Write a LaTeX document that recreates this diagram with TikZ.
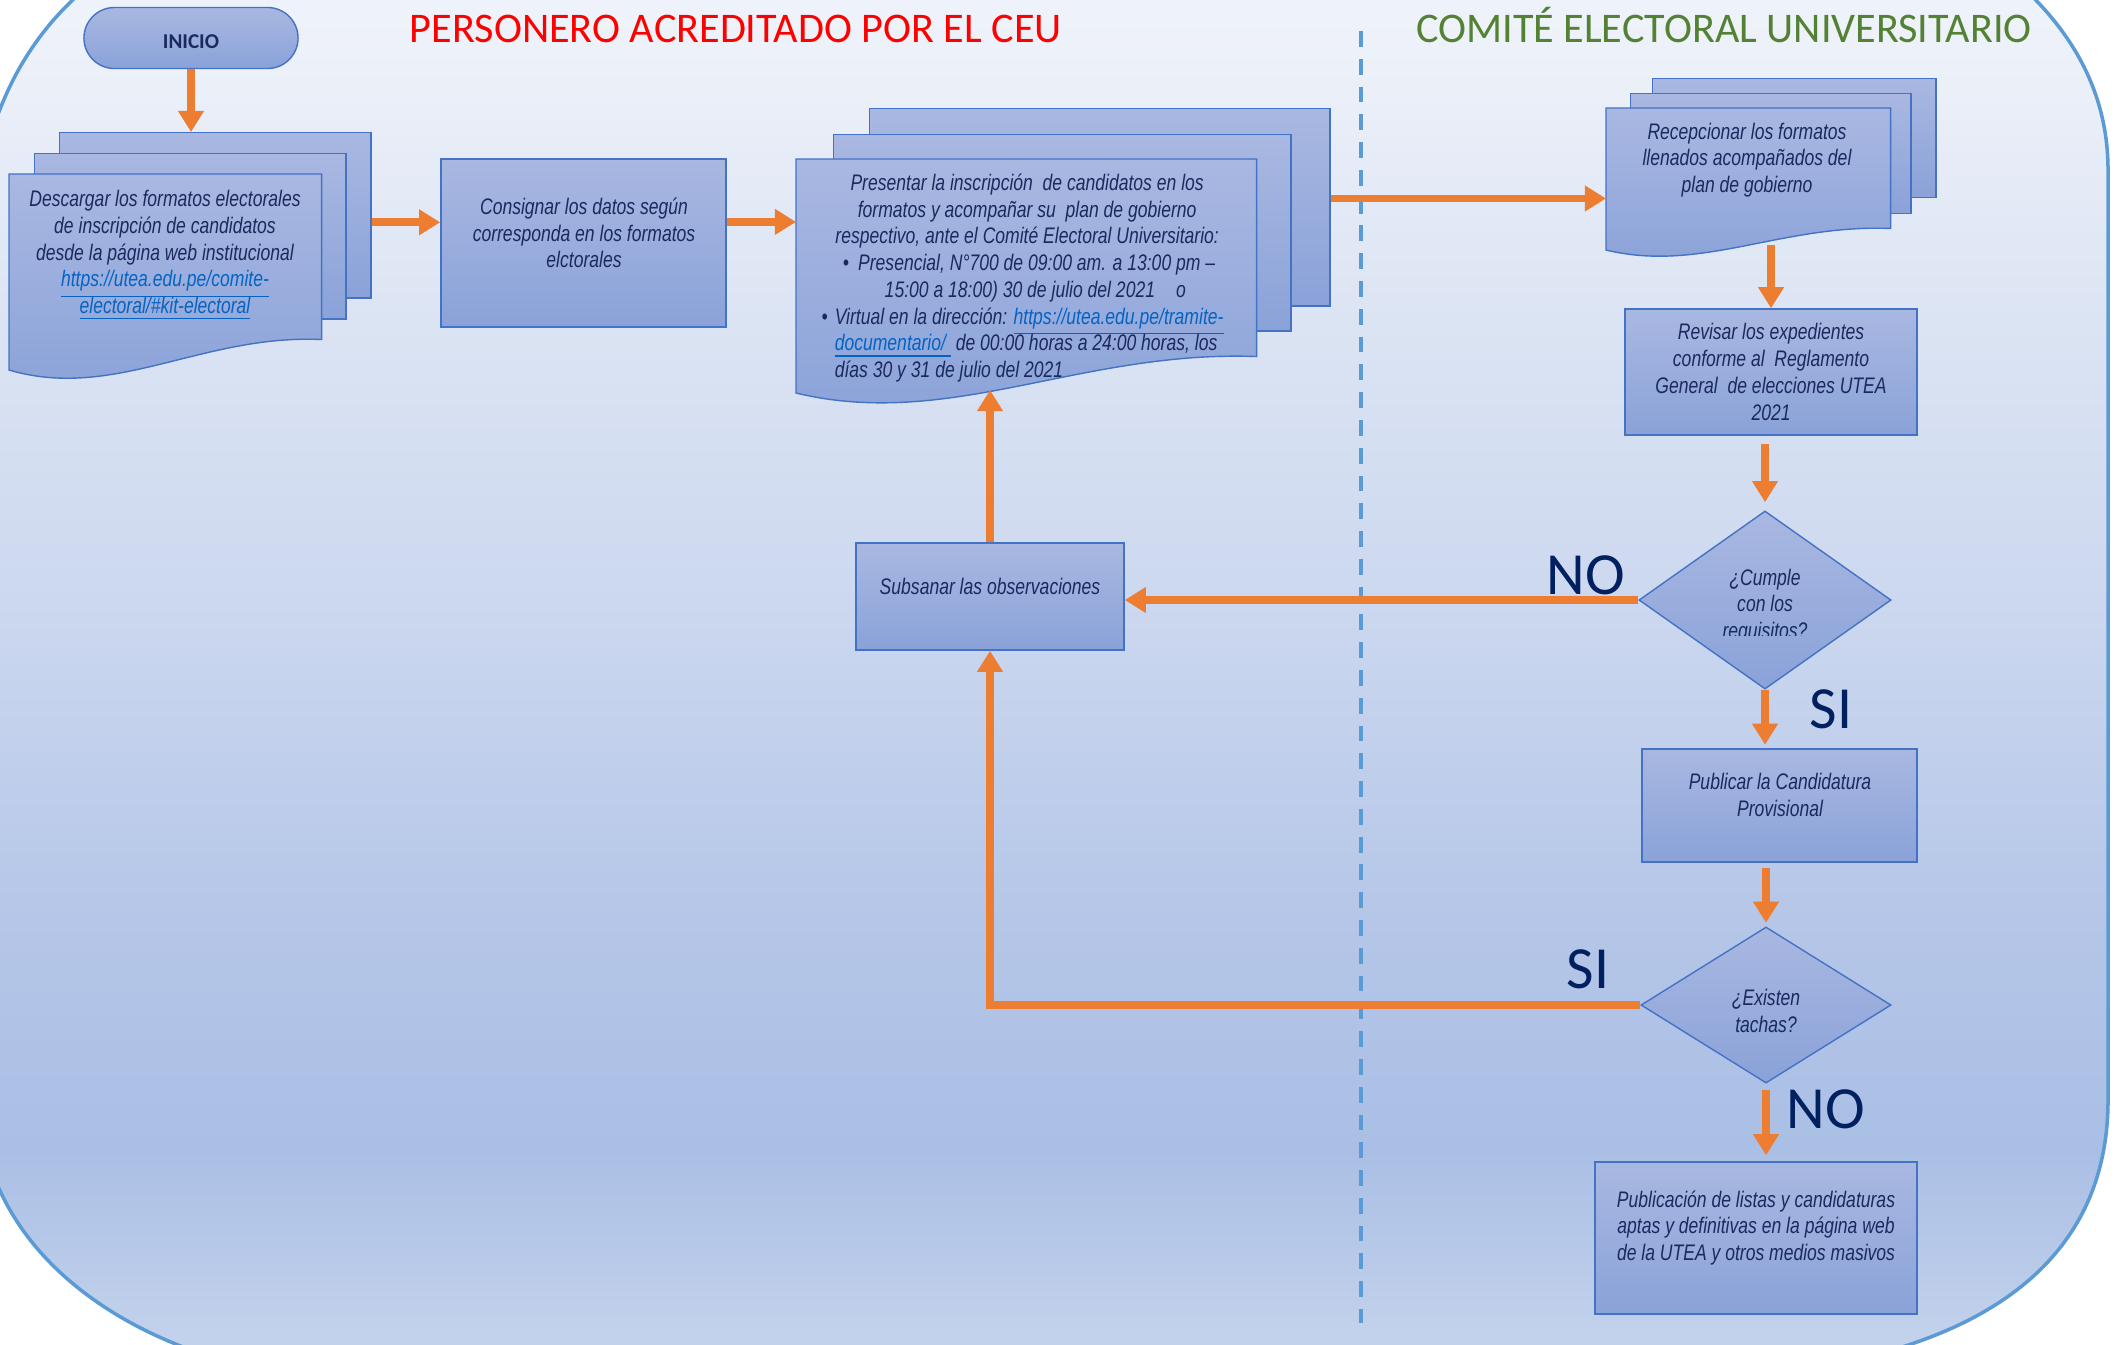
\documentclass[tikz,border=0pt]{standalone}
\usepackage{fontspec}
\usetikzlibrary{shapes.geometric,shapes.misc,arrows.meta,calc,positioning}
\setlength{\parindent}{0pt}
\newfontfamily\titlefont{Carlito}
\newfontfamily\boxfont[FakeStretch=0.78]{Liberation Sans}

\definecolor{flowc}{HTML}{ED7D31}
\definecolor{boxline}{HTML}{4472C4}
\definecolor{boxtop}{HTML}{A9B8E1}
\definecolor{boxbot}{HTML}{8AA2D9}
\definecolor{panelline}{HTML}{5B9BD5}
\definecolor{linkblue}{HTML}{0563C1}
\definecolor{txtnavy}{HTML}{1B2A5E}
\definecolor{lblnavy}{HTML}{002060}
\definecolor{titlered}{HTML}{FF0000}
\definecolor{titlegreen}{HTML}{548235}
\definecolor{bgT}{HTML}{F1F4FB}
\definecolor{bgA}{HTML}{EDF1F9}
\definecolor{bgA2}{HTML}{DDE5F4}
\definecolor{bgB}{HTML}{CCD8EF}
\definecolor{bgB2}{HTML}{B6C7E8}
\definecolor{bgC}{HTML}{AABFE5}
\definecolor{bgD}{HTML}{C3D2EC}
\definecolor{bgE}{HTML}{C6D5ED}

\pgfdeclareverticalshading{bgshade}{100bp}{color(0bp)=(bgE); color(25bp)=(bgE);
  color(26bp)=(bgD); color(32.6bp)=(bgC); color(41.2bp)=(bgB2); color(51.5bp)=(bgB);
  color(61.9bp)=(bgA2); color(70.5bp)=(bgA); color(75bp)=(bgT); color(100bp)=(bgT)}

\newcommand{\weblink}[1]{\smash{\textcolor{linkblue}{\underline{#1}}}}

\tikzset{
  box/.style={rectangle, draw=boxline, line width=0.4pt, top color=boxtop, bottom color=boxbot, inner sep=0pt},
  page/.style={box, anchor=north west},
  frontpage/.style={rectangle, inner sep=0pt, anchor=north west},
  pagefill/.style={draw=boxline, line width=0.4pt, top color=boxtop, bottom color=boxbot},
  txt/.style={font=\boxfont\itshape\fontsize{6.4pt}{7.6pt}\selectfont, text=txtnavy, align=center, inner sep=0pt},
  flow/.style={draw=flowc, line width=2.2pt, -{Triangle[width=7pt,length=6pt]}},
  answer/.style={font=\titlefont\fontsize{17pt}{20pt}\selectfont, text=lblnavy, anchor=base, inner sep=0pt},
  lane/.style={font=\titlefont\fontsize{12pt}{14pt}\selectfont, anchor=base, inner sep=0pt},
  divider/.style={draw=panelline, line width=1.1pt, dash pattern=on 4.5pt off 3.4pt}
}

\begin{document}
\begin{tikzpicture}[x=0.01cm, y=-0.01cm]
\useasboundingbox (0,0) rectangle (2116,1344);
\fill[white] (0,0) rectangle (2116,1344);

% background panel
\path[shading=bgshade, draw=panelline, line width=1pt]
  (2108,1100) -- (2108,170) .. controls (2108,90) and (2070,20) .. (1990,-40)
  -- (200,-80) .. controls (110,-40) and (10,20) .. (-20,180)
  -- (-20,1100) .. controls (-20,1220) and (80,1330) .. (260,1370)
  -- (1800,1370) .. controls (2000,1340) and (2108,1250) .. (2108,1100) -- cycle;

% lanes
\node[lane, text=titlered] (personero) at (736,42) {PERSONERO ACREDITADO POR EL CEU};
\node[lane, text=titlegreen] (comite) at (1724,42) {COMITÉ ELECTORAL UNIVERSITARIO};
\draw[divider] (1361,31) -- (1361,1323);

% Inicio
\node[box, rounded rectangle, minimum width=2.14cm, minimum height=0.61cm, text height=6pt, text depth=0pt,
      font=\titlefont\bfseries\fontsize{6pt}{7pt}\selectfont, text=txtnavy] (inicio) at (191,38) {INICIO};

% Descargar (documents)
\node[page, minimum width=3.11cm, minimum height=1.65cm] (descargarA) at (59,132) {};
\node[page, minimum width=3.11cm, minimum height=1.65cm] (descargarB) at (34,153) {};
\node[frontpage, minimum width=3.11cm, minimum height=1.64cm] (descargarC) at (9,174) {};
\path[pagefill] (descargarC.north west) -- (descargarC.north east) -- (descargarC.south east)
  .. controls (202,334) and (114,401) .. (9,370) -- cycle;
\node[txt] (descargar) at (165,252) {Descargar los formatos electorales\\ de inscripción de candidatos\\
  desde la página web institucional\\ \weblink{https://utea.edu.pe/comite-}\\ \weblink{electoral/\#kit-electoral}};

% Consignar
\node[box, minimum width=2.85cm, minimum height=1.68cm] (consignar) at (583.5,243) {};
\node[txt] (consignarTxt) at (584,233) {Consignar los datos según\\ corresponda en los formatos\\ elctorales};

% Presentar (documents)
\node[page, minimum width=4.60cm, minimum height=1.97cm] (presentarA) at (869,108) {};
\node[page, minimum width=4.57cm, minimum height=1.96cm] (presentarB) at (833,134) {};
\node[frontpage, minimum width=4.59cm, minimum height=1.96cm] (presentarC) at (796,159) {};
\path[pagefill] (presentarC.north west) -- (presentarC.north east) -- (presentarC.south east)
  .. controls (1080,350) and (950,430) .. (796,393) -- cycle;
\coordinate (presentarBase) at (990,390);
\node[txt, align=left, anchor=west] (presentar) at (826,278) {%
  \makebox[114pt][c]{Presentar la inscripción\ \ de candidatos en los}\\
  \makebox[114pt][c]{formatos y acompañar su\ \ plan de gobierno}\\
  \makebox[114pt][c]{respectivo, ante el Comité Electoral Universitario:}\\
  \hspace*{4.6pt}\textbullet\hspace{2.6pt}Presencial, N°700 de 09:00 am. a 13:00 pm –\\
  \hspace*{16.5pt}15:00 a 18:00) 30 de julio del 2021\hspace{6pt}o\\
  \hspace*{2.3pt}\llap{\textbullet\hspace{2pt}}Virtual en la dirección: \weblink{https://utea.edu.pe/tramite-}\\
  \hspace*{2.3pt}\weblink{documentario/\ }\ de 00:00 horas a 24:00 horas, los\\
  \hspace*{2.3pt}días 30 y 31 de julio del 2021};

% Recepcionar (documents)
\node[page, minimum width=2.83cm, minimum height=1.19cm] (recepcionarA) at (1652,78) {};
\node[page, minimum width=2.80cm, minimum height=1.20cm] (recepcionarB) at (1630,93) {};
\node[frontpage, minimum width=2.83cm, minimum height=1.19cm] (recepcionarC) at (1606,108) {};
\path[pagefill] (recepcionarC.north west) -- (recepcionarC.north east) -- (recepcionarC.south east)
  .. controls (1781,224) and (1701,273) .. (1606,250) -- cycle;
\node[txt] (recepcionar) at (1747,160) {Recepcionar los formatos\\ llenados acompañados del\\ plan de gobierno};

% Revisar
\node[box, minimum width=2.92cm, minimum height=1.26cm] (revisar) at (1771,372) {};
\node[txt] (revisarTxt) at (1771,372) {Revisar los expedientes\\ conforme al\ \ Reglamento\\ General\ \ de elecciones UTEA\\ 2021};

% Cumple
\node[box, diamond, minimum width=2.52cm, minimum height=1.78cm] (cumple) at (1765,600) {};
\begin{scope}
  \clip (1630,540) rectangle (1900,635);
  \node[txt] (cumpleTxt) at (1765,606) {¿Cumple\\ con los\\ requisitos?};
\end{scope}

% Subsanar
\node[box, minimum width=2.68cm, minimum height=1.07cm] (subsanar) at (990,596.5) {};
\node[txt] (subsanarTxt) at (990,586) {Subsanar las observaciones};

% Publicar
\node[box, minimum width=2.75cm, minimum height=1.13cm] (publicar) at (1779.5,805.5) {};
\node[txt] (publicarTxt) at (1780,795) {Publicar la Candidatura\\ Provisional};

% Tachas
\node[box, diamond, minimum width=2.50cm, minimum height=1.56cm] (tachas) at (1766,1005) {};
\node[txt] (tachasTxt) at (1766,1011) {¿Existen\\ tachas?};

% Publicacion final
\node[box, minimum width=3.22cm, minimum height=1.52cm] (publicacion) at (1756,1238) {};
\node[txt] (publicacionTxt) at (1756,1228) {Publicación de listas y candidaturas\\ aptas y definitivas en la página web\\ de la UTEA y otros medios masivos};

% flow
\draw[flow] (inicio.south) -- (inicio.south |- descargarA.north);
\draw[flow] ([yshift=-2pt]descargarA.east) -- ([yshift=-2pt]descargarA.east -| consignar.west);
\draw[flow] ([yshift=6pt]consignar.east) -- ([yshift=6pt]consignar.east -| presentarC.west);
\draw[flow] ([yshift=2.5pt]presentarA.east) -- ([yshift=2.5pt]presentarA.east -| recepcionarC.west);
\draw[flow] ([yshift=18pt]revisar.north) -- (revisar.north);
\draw[flow, shorten <=2.3pt, shorten >=2.3pt] (cumple.north |- revisar.south) -- (cumple.north);
\draw[flow] (cumple.west) -- (cumple.west -| subsanar.east);
\draw[flow, shorten >=1pt] (cumple.south) -- (cumple.south |- publicar.north);
\draw[flow, shorten <=1.5pt, shorten >=1pt] (tachas.north |- publicar.south) -- (tachas.north);
\draw[flow] (tachas.west) -| (subsanar.south);
\draw[flow, shorten <=1.7pt, shorten >=1.7pt] (tachas.south) -- (tachas.south |- publicacion.north);
\draw[flow] (subsanar.north) -- (presentarBase);

% answers
\node[answer] (noCumple) at (1586,594) {NO};
\node[answer] (siCumple) at (1831,728) {SI};
\node[answer] (siTachas) at (1588,988) {SI};
\node[answer] (noTachas) at (1826,1128) {NO};
\end{tikzpicture}
\end{document}
